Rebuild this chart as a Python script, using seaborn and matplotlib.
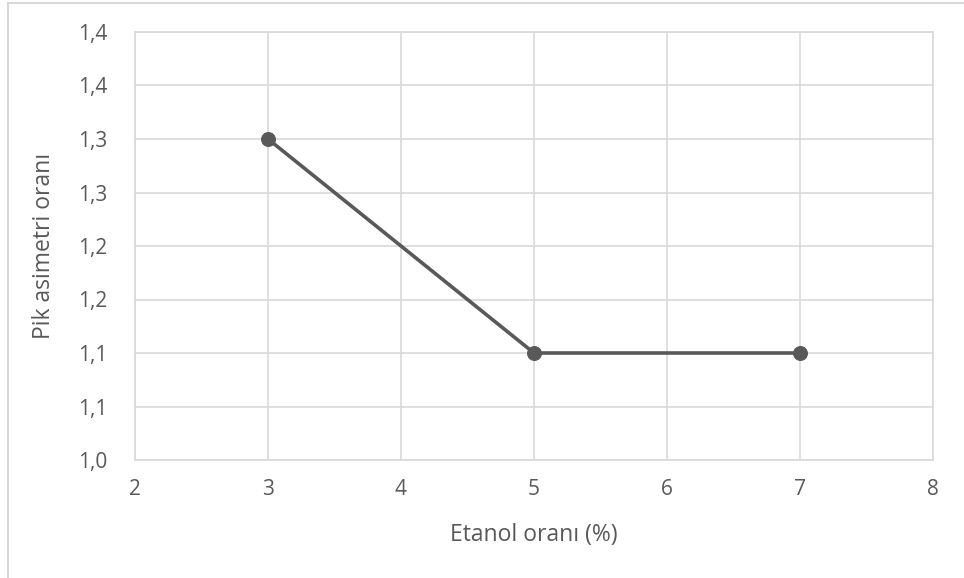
import matplotlib
matplotlib.use("Agg")
import matplotlib.pyplot as plt
import seaborn as sns
import pandas as pd
from matplotlib.patches import Rectangle

# data
etanol = [3, 5, 7]
asimetri = [1.30, 1.10, 1.10]
x_ticks = [2, 3, 4, 5, 6, 7, 8]
y_ticks = [1.00, 1.05, 1.10, 1.15, 1.20, 1.25, 1.30, 1.35, 1.40]
y_tick_labels = ["1,0", "1,1", "1,1", "1,2", "1,2", "1,3", "1,3", "1,4", "1,4"]

sns.set_style("white")
plt.rcParams["font.family"] = ["Open Sans", "DejaVu Sans"]

text_col = "#595959"
grid_col = "#d9d9d9"

df = pd.DataFrame({"x": etanol, "y": asimetri})

fig = plt.figure(figsize=(9.64, 5.78), dpi=100)
ax = fig.add_axes([135 / 964, 1 - 460 / 578, (933 - 135) / 964, (460 - 32) / 578])

sns.lineplot(data=df, x="x", y="y", ax=ax, color="#595959", linewidth=2.6,
             marker="o", markersize=10, markeredgecolor="#595959", zorder=3)

ax.set_xlim(2, 8)
ax.set_ylim(1.0, 1.4)
ax.set_xticks(x_ticks)
ax.set_yticks(y_ticks)
ax.set_yticklabels(y_tick_labels)
ax.grid(True, color=grid_col, linewidth=1.2)
ax.set_axisbelow(True)
for side in ["top", "right", "left", "bottom"]:
    ax.spines[side].set_color(grid_col)
    ax.spines[side].set_linewidth(1.2)
ax.tick_params(axis="both", length=0, labelsize=15, colors=text_col)
ax.tick_params(axis="x", pad=14)
ax.tick_params(axis="y", pad=20)

ax.set_xlabel("Etanol oranı (%)", fontsize=16.5, color=text_col, labelpad=16)
ax.set_ylabel("Pik asimetri oranı", fontsize=16.5, color=text_col, labelpad=16)

# outer chart border
fig.patches.append(Rectangle((8 / 964, -0.05), 1.1, 1 - 3 / 578 + 0.05,
                             transform=fig.transFigure, fill=False,
                             edgecolor=grid_col, linewidth=1.5))

fig.savefig("out.png", dpi=100)
